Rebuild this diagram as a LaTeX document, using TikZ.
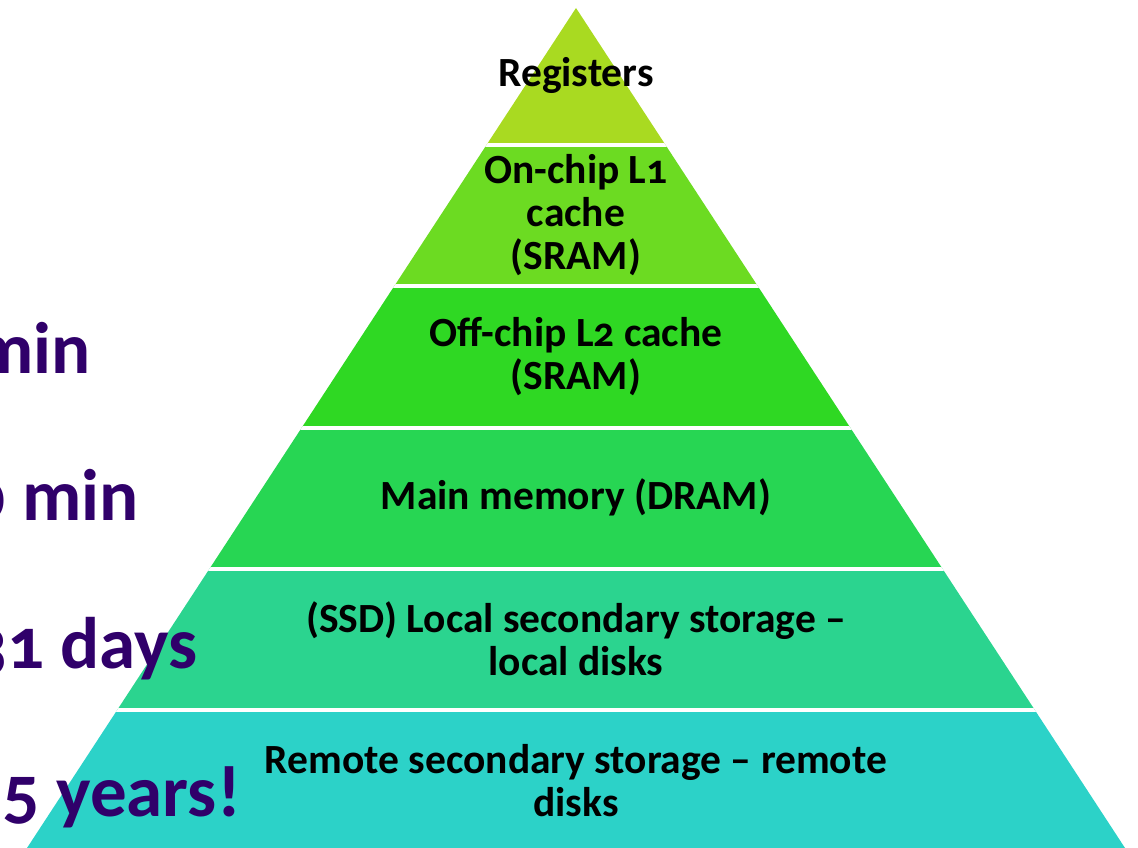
\documentclass[tikz,border=0pt]{standalone}
\usepackage{fontspec}
\setmainfont{Carlito}[Numbers=OldStyle]
\definecolor{creg}{HTML}{A9DA21}
\definecolor{cla}{HTML}{6CDB22}
\definecolor{clb}{HTML}{2FD823}
\definecolor{cmain}{HTML}{27D653}
\definecolor{cssd}{HTML}{2BD48F}
\definecolor{crem}{HTML}{2CD2C8}
\definecolor{latcol}{HTML}{30006A}
\begin{document}
\begin{tikzpicture}[x=1pt,y=-1pt,
  lbl/.style={font=\fontsize{41.5}{43}\selectfont\bfseries, align=center, text=black, inner sep=0pt},
  lat/.style={font=\fontsize{73}{80}\selectfont\bfseries, text=latcol, anchor=base east, inner sep=0pt},
  gap/.style={white, line width=4pt}]
\useasboundingbox (0,0) rectangle (1138,848);
\clip (0,0) rectangle (1138,848);
\coordinate (apex) at (576,8);
\coordinate (bl) at (27,848);
\coordinate (br) at (1125,848);
\begin{scope}
  \clip (apex) -- (br) -- (bl) -- cycle;
  \fill[creg]  (0,0)   rectangle (1138,145);
  \fill[cla]   (0,145) rectangle (1138,286);
  \fill[clb]   (0,286) rectangle (1138,427);
  \fill[cmain] (0,427) rectangle (1138,568);
  \fill[cssd]  (0,568) rectangle (1138,710);
  \fill[crem]  (0,710) rectangle (1138,848);
  \draw[gap] (0,145) -- (1138,145);
  \draw[gap] (0,286) -- (1138,286);
  \draw[gap] (0,427.5) -- (1138,427.5);
  \draw[gap] (0,568.5) -- (1138,568.5);
  \draw[gap] (0,710) -- (1138,710);
\end{scope}
\node[lbl, anchor=base] (reg) at (576,87) {Registers};
\node[lbl] (l1) at (576,215) {On-chip L1\\cache\\(SRAM)};
\node[lbl] (l2) at (576,357) {Off-chip L2 cache\\(SRAM)};
\node[lbl] (dram) at (576,497) {Main memory (DRAM)};
\node[lbl] (ssd) at (576,639) {(SSD) Local secondary storage --\\local disks};
\node[lbl] (rem) at (576,781) {Remote secondary storage -- remote\\disks};
\node[lat] (t1) at (91,373) {1 min};
\node[lat] (t2) at (139,520) {10 min};
\node[lat] (t3) at (198,668) {31 days};
\node[lat] (t4) at (241,816) {15 years!};
\end{tikzpicture}
\end{document}
